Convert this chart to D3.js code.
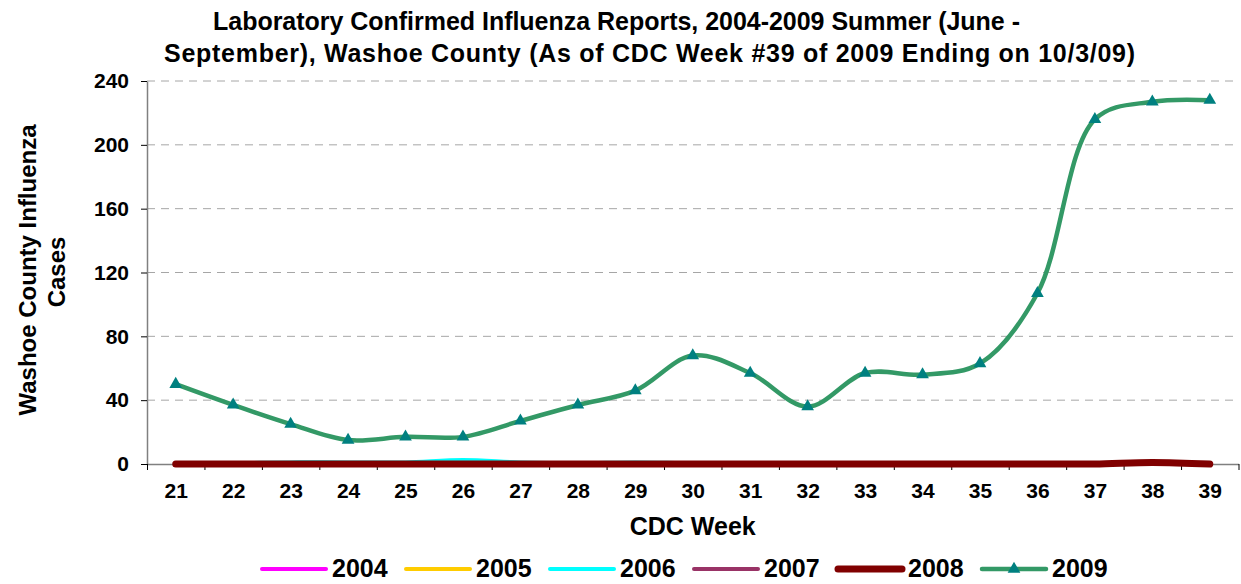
<!DOCTYPE html>
<html><head><meta charset="utf-8">
<script src="https://cdn.jsdelivr.net/npm/d3@7"></script>
<style>
body{margin:0;background:#fff}
text{font-family:"Liberation Sans",Arial,sans-serif;font-weight:bold;fill:#000}
</style>
</head><body>
<svg id="chart" width="1241" height="584"></svg>
<script>
const weeks = [21,22,23,24,25,26,27,28,29,30,31,32,33,34,35,36,37,38,39];
const yTicks = [0,40,80,120,160,200,240];
const seriesNames = ["2004","2005","2006","2007","2008","2009"];
const cases2004 = [0,0,0,0,0,0,0,0,0,0,0,0,0,0,0,0,0,0,0];
const cases2005 = [0,0,0,0,0,0,0,0,0,0,0,0,0,0,0,0,0,0,0];
const cases2006 = [0.5,0.5,1,1,1,2.5,1,0.5,1,0.5,0.5,0.5,0.5,0.5,0.5,0.5,0.5,0.5,0.5];
const cases2007 = [0,0,0,0,0,0,0,0,0,0,0,0,0,0,0,0,0,0,0];
const cases2008 = [0,0,0,0,0,0,0,0,0,0,0,0,0,0,0,0,0,1,0];
const cases2009 = [50,37,25,15,17,17,27,37,46,68,57,36,57,56,63,107,216,227,228];
const colors = ["#FF00FF","#FFCC00","#00FFFF","#993366","#800000","#339966"];
const widths = [4,4,4,4,7,4.5];
const title1 = "Laboratory Confirmed Influenza Reports, 2004-2009 Summer (June -";
const title2 = "September), Washoe County (As of CDC Week #39 of 2009 Ending on 10/3/09)";

const allSeries = [cases2004,cases2005,cases2006,cases2007,cases2008,cases2009];

const svg = d3.select("#chart");
const L = 147, R = 1238.5, T = 81, B = 464;
const x = d3.scaleLinear().domain([weeks[0]-0.5, weeks[weeks.length-1]+0.5]).range([L, R]);
const y = d3.scaleLinear().domain([0, 240]).range([B, T]);

// gridlines
svg.append("g").selectAll("line").data(yTicks.filter(d => d > 0)).join("line")
  .attr("x1", L).attr("x2", R).attr("y1", d => y(d)).attr("y2", d => y(d))
  .attr("stroke", "#a6a6a6").attr("stroke-width", 1).attr("stroke-dasharray", "8,6");

// y axis
const yAxis = svg.append("g").attr("transform", `translate(${L},0)`)
  .call(d3.axisLeft(y).tickValues(yTicks).tickSize(6).tickSizeOuter(0).tickPadding(12));
yAxis.select(".domain").attr("stroke", "#808080").attr("stroke-width", 1.5);
yAxis.selectAll(".tick line").attr("stroke", "#000");
yAxis.selectAll("text").style("font-size", "21px").attr("font-family", null);

// x axis (boundary ticks)
const bounds = weeks.map(w => w - 0.5).concat([weeks[weeks.length-1] + 0.5]);
const xAxis = svg.append("g").attr("transform", `translate(0,${B})`)
  .call(d3.axisBottom(x).tickValues(bounds).tickSize(6).tickSizeOuter(0).tickFormat(""));
xAxis.select(".domain").attr("stroke", "#808080").attr("stroke-width", 1.5);
xAxis.selectAll(".tick line").attr("stroke", "#000");
const xLab = svg.append("g").attr("transform", `translate(0,${B})`)
  .call(d3.axisBottom(x).tickValues(weeks).tickSize(0).tickPadding(19).tickFormat(d3.format("d")));
xLab.select(".domain").remove();
xLab.selectAll("text").style("font-size", "21px").attr("font-family", null);

// lines
const line = d3.line().x((d, i) => x(weeks[i])).y(d => y(d)).curve(d3.curveCatmullRom.alpha(0.5));
allSeries.forEach((s, k) => {
  svg.append("path").datum(s).attr("d", line).attr("fill", "none")
    .attr("stroke", colors[k]).attr("stroke-width", widths[k])
    .attr("stroke-linecap", "round").attr("stroke-linejoin", "round");
});

// markers for 2009
const tri = d3.symbol().type(d3.symbolTriangle).size(70);
svg.append("g").selectAll("path").data(cases2009).join("path")
  .attr("d", tri).attr("transform", (d, i) => `translate(${x(weeks[i])},${y(d)})`)
  .attr("fill", "#008080");

// title
svg.append("text").attr("x", 213).attr("y", 30).style("font-size", "25px")
  .attr("textLength", 807).attr("lengthAdjust", "spacing").text(title1);
svg.append("text").attr("x", 164).attr("y", 62).style("font-size", "25px")
  .attr("textLength", 971).attr("lengthAdjust", "spacing").text(title2);

// axis titles
svg.append("text").attr("x", (L + R) / 2).attr("y", 535).attr("text-anchor", "middle").style("font-size", "25px").text("CDC Week");
svg.append("text").attr("transform", "translate(36,270) rotate(-90)").attr("text-anchor", "middle").style("font-size", "24px").text("Washoe County Influenza");
svg.append("text").attr("transform", "translate(65,272) rotate(-90)").attr("text-anchor", "middle").style("font-size", "24px").text("Cases");

// legend
const lg = svg.append("g");
seriesNames.forEach((n, k) => {
  const gx = 262 + k * 144, gy = 569;
  lg.append("line").attr("x1", gx).attr("x2", gx + 64).attr("y1", gy).attr("y2", gy)
    .attr("stroke", colors[k]).attr("stroke-width", widths[k]).attr("stroke-linecap", "round");
  if (k === 5) lg.append("path").attr("d", tri).attr("transform", `translate(${gx + 32},${gy})`).attr("fill", "#008080");
  lg.append("text").attr("x", gx + 70).attr("y", gy + 8).style("font-size", "25px").text(n);
});
</script>
</body></html>
